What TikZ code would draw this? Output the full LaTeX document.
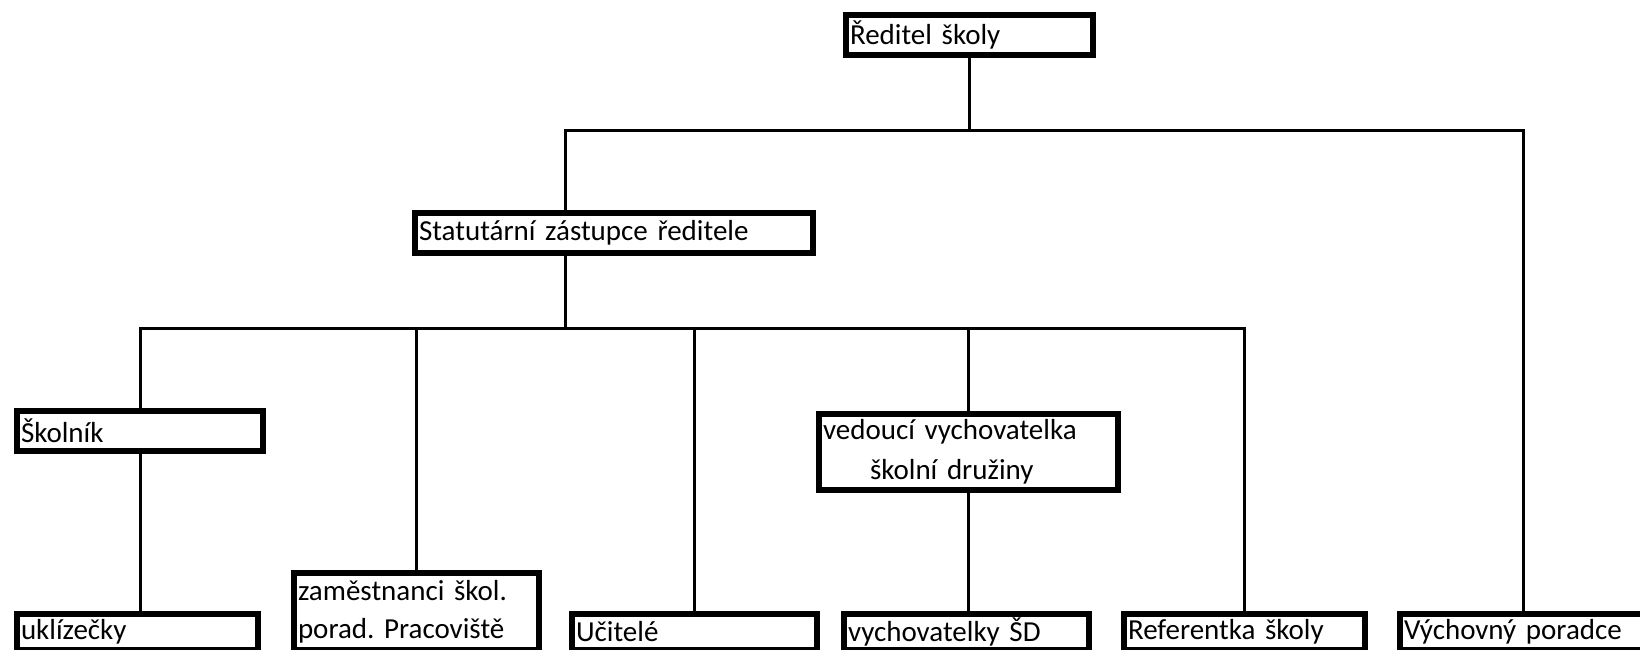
\documentclass[tikz,border=0pt]{standalone}
\usepackage{fontspec}
\setmainfont{Carlito}
\usepackage{tikz}
\usetikzlibrary{positioning}
\newcommand{\unitfont}{\fontsize{29}{31}\selectfont\frenchspacing}

\begin{document}
\begin{tikzpicture}[x=1pt, y=-1pt]
	\tikzstyle{unit} = [rectangle, draw=black, line width=6pt, anchor=north west,
	inner xsep=4pt, inner ysep=0pt, align=left, font=\unitfont]
	\tikzstyle{link} = [line width=3pt, draw=black]
	\useasboundingbox (0,0) rectangle (1640,649);
	% top
	\node (reditel) [unit, text width=239pt, minimum height=40pt] at (843,12) {Ředitel školy};
	\node (statutar) [unit, text width=390pt, minimum height=40pt] at (412,210) {Statutární zástupce ředitele};
	% middle
	\node (skolnik) [unit, text width=238pt, minimum height=40pt] at (14,408) {Školník};
	\node (vedouci) [unit, text width=291pt, minimum height=76pt] at (816,411) {vedoucí vychovatelka\\[9pt]\hspace*{47pt}školní družiny};
	% bottom row
	\node (zamestnanci) [unit, text width=237pt, minimum height=77pt] at (291,570) {zaměstnanci škol.\\[7pt]porad. Pracoviště};
	\node (uklizecky) [unit, text width=233pt, minimum height=36pt] at (14,611) {uklízečky};
	\node (ucitele) [unit, text width=237pt, minimum height=36pt] at (569,611) {Učitelé};
	\node (vychovatelky) [unit, text width=237pt, minimum height=36pt] at (841,611) {vychovatelky ŠD};
	\node (referentka) [unit, text width=233pt, minimum height=36pt] at (1121,611) {Referentka školy};
	\node (poradce) [unit, text width=238pt, minimum height=36pt] at (1397,611) {Výchovný poradce};
	% bus lines
	\coordinate (busA) at (565,130);
	\coordinate (busB) at (565,328);
	\draw [link] (reditel.south) |- (busA) -- (busA |- statutar.north);
	\draw [link] (reditel.south |- busA) -| (poradce.north);
	\draw [link] (busA |- statutar.south) -- (busB);
	\draw [link] (skolnik.north) |- (busB) -| (referentka.north);
	\foreach \n in {zamestnanci, ucitele, vedouci}
		\draw [link] (\n.north) -- (\n.north |- busB);
	\draw [link] (skolnik.south) -- (skolnik.south |- uklizecky.north);
	\draw [link] (vedouci.south) -- (vedouci.south |- vychovatelky.north);
\end{tikzpicture}
\end{document}
